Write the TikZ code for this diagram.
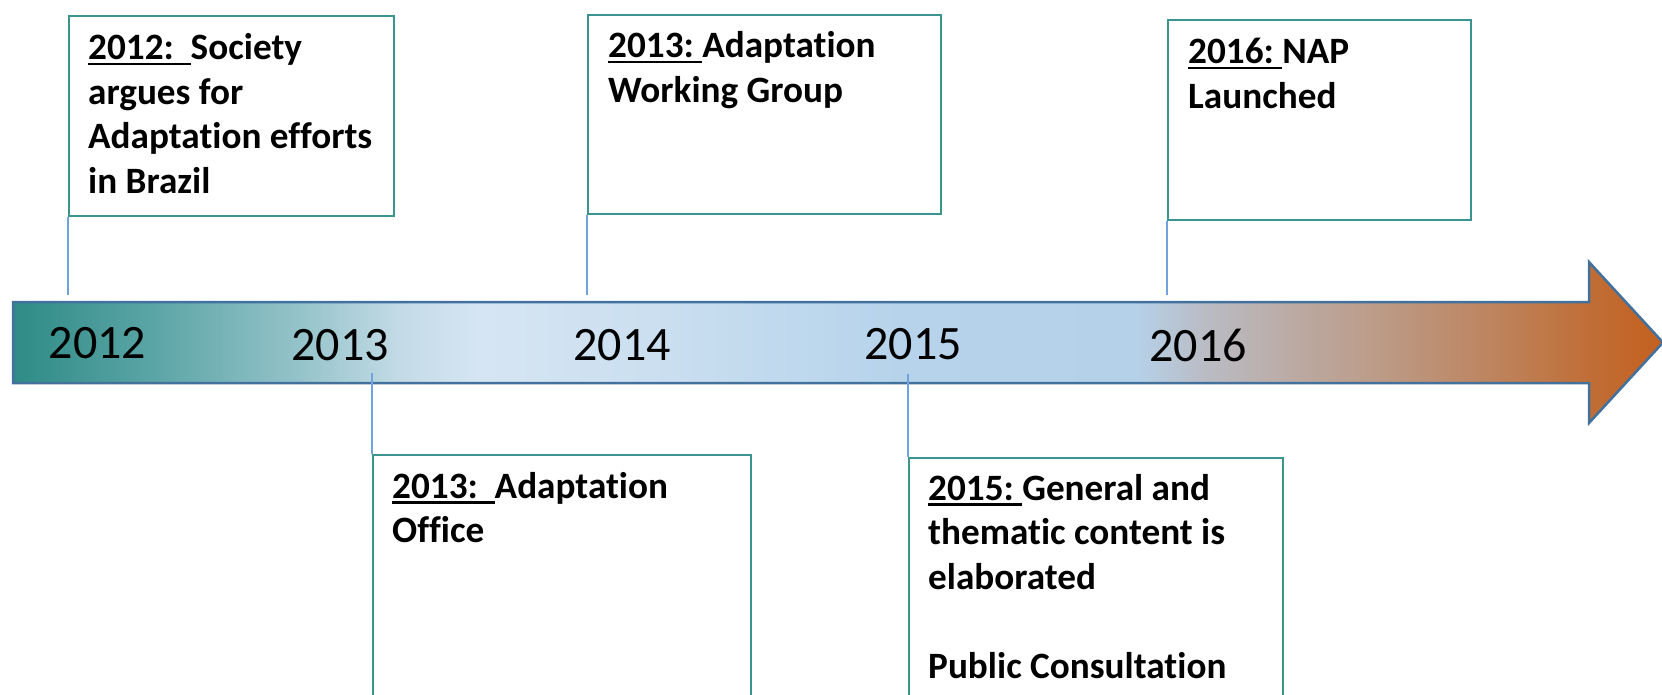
\documentclass[tikz,border=0pt]{standalone}
\usepackage{fontspec}
\setmainfont{Carlito}[Ligatures=NoCommon]
\definecolor{boxteal}{HTML}{3A9490}
\definecolor{connblue}{HTML}{6FA3DB}
\definecolor{arrowblue}{HTML}{41719C}
\definecolor{sA}{HTML}{2E8B86}
\definecolor{sB}{HTML}{5AA4A5}
\definecolor{sC}{HTML}{95C3CA}
\definecolor{sD}{HTML}{C3DBE6}
\definecolor{sE}{HTML}{D6E5F3}
\definecolor{sF}{HTML}{CBDFF0}
\definecolor{sG}{HTML}{B6D3EB}
\definecolor{sH}{HTML}{B5D1E9}
\definecolor{sI}{HTML}{BABCC4}
\definecolor{sJ}{HTML}{BBA9A2}
\definecolor{sK}{HTML}{BC9C89}
\definecolor{sL}{HTML}{BD8560}
\definecolor{sM}{HTML}{C06E37}
\definecolor{sN}{HTML}{C4601E}
\pgfdeclarehorizontalshading{timeline}{100bp}{color(0bp)=(sA); color(25bp)=(sA); color(29.16bp)=(sB); color(33.7bp)=(sC); color(36.73bp)=(sD); color(39.16bp)=(sE); color(44.31bp)=(sF); color(51.9bp)=(sG); color(59.02bp)=(sH); color(61.11bp)=(sI); color(63.9bp)=(sJ); color(66.24bp)=(sK); color(69.69bp)=(sL); color(72.73bp)=(sM); color(75bp)=(sN); color(100bp)=(sN)}
\newcommand{\ulyr}[1]{\leavevmode\setbox0\hbox{#1}\rlap{\rule[-5.5pt]{\wd0}{2.2pt}}\box0}
\begin{document}
\begin{tikzpicture}[x=1pt,y=-1pt,
  evbox/.style={draw=boxteal, line width=2pt, fill=white, inner sep=0pt, anchor=north west},
  evtext/.style={anchor=base west, inner sep=0pt, text=black, font=\bfseries\fontsize{37.2}{44.5}\selectfont},
  yeartext/.style={anchor=base, inner sep=0pt, text=black, font=\fontsize{48}{52}\selectfont},
  conn/.style={draw=connblue, line width=1.4pt}]
\useasboundingbox (0,0) rectangle (1662,695);
% timeline arrow
\path[draw=arrowblue, line width=2.5pt, line join=miter, shading=timeline]
  (13,302) -- (1589,302) -- (1589,262) -- (1663,342.5) -- (1589,423) -- (1589,383) -- (13,383) -- cycle;
% year labels
\node[yeartext] (y12) at (97.5,358) {2012};
\node[yeartext] (y13) at (340,360) {2013};
\node[yeartext] (y14) at (622,360) {2014};
\node[yeartext] (y15) at (913,359) {2015};
\node[yeartext] (y16) at (1198,361) {2016};
% connector ends
\coordinate (c1) at (68,295);
\coordinate (c2) at (587,295);
\coordinate (c3) at (1167,295);
\coordinate (c4) at (372,373);
\coordinate (c5) at (908,374);
% boxes
\node[evbox, minimum width=325pt, minimum height=200pt] (b1) at (68,15) {};
\node[evbox, minimum width=353pt, minimum height=199pt] (b2) at (587,14) {};
\node[evbox, minimum width=303pt, minimum height=200pt] (b3) at (1167,19) {};
\node[evbox, minimum width=378pt, minimum height=300pt] (b4) at (372,454) {};
\node[evbox, minimum width=374pt, minimum height=300pt] (b5) at (908,457) {};
% connectors
\draw[conn] (b1.south west) -- (c1);
\draw[conn] (b2.south west) -- (c2);
\draw[conn] (b3.south west) -- (c3);
\draw[conn] (c4) -- (b4.north west);
\draw[conn] (c5) -- (b5.north west);
% texts
\node[evtext] (t1) at (88,60) {\parbox[t]{340pt}{\raggedright\ulyr{2012:\ \ }Society\\argues for\\Adaptation efforts\\in Brazil}};
\node[evtext] (t2) at (608,58) {\parbox[t]{340pt}{\raggedright\ulyr{2013:\ }Adaptation\\Working Group}};
\node[evtext] (t3) at (1188,64) {\parbox[t]{280pt}{\raggedright\ulyr{2016:\ }NAP\\Launched}};
\node[evtext] (t4) at (392,498) {\parbox[t]{340pt}{\raggedright\ulyr{2013:\ \ }Adaptation\\Office}};
\node[evtext] (t5) at (928,500) {\parbox[t]{340pt}{\raggedright\ulyr{2015:\ }General and\\thematic content is\\elaborated\\[44.5pt]Public Consultation}};
\end{tikzpicture}
\end{document}
